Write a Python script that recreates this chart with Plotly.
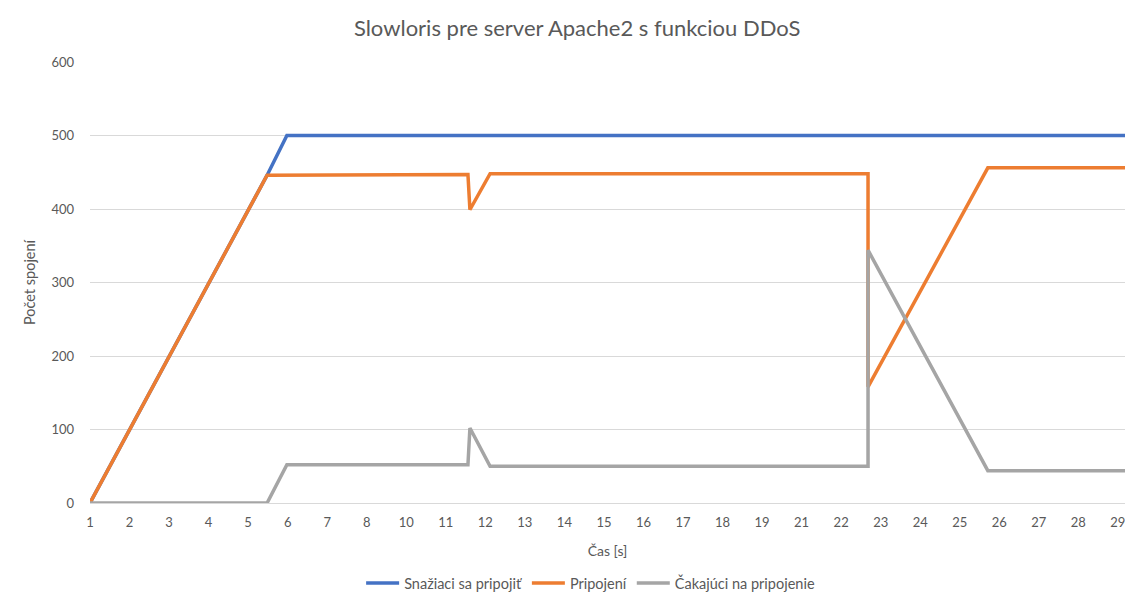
import plotly.graph_objects as go

# category labels shown on the time axis (Excel skipped 9 and 20)
tick_labels = [1, 2, 3, 4, 5, 6, 7, 8, 10, 11, 12, 13, 14, 15, 16, 17, 18, 19,
               21, 22, 23, 24, 25, 26, 27, 28, 29]
tick_pos = list(range(len(tick_labels)))

# x in category-slot units, y = number of connections
snaziaci_x = [0, 4.48, 4.98, 26.18]
snaziaci_y = [0, 446, 500, 500]

pripojeni_x = [0, 4.48, 9.56, 9.61, 10.12, 19.68, 19.68, 22.71, 26.18]
pripojeni_y = [0, 446, 447, 399, 448, 448, 158, 456, 456]

cakajuci_x = [0, 4.48, 4.98, 9.56, 9.61, 10.12, 19.68, 19.68, 22.71, 26.18]
cakajuci_y = [0, 0, 52, 52, 102, 50, 50, 344, 44, 44]

FONT = "Lato"
TEXT = "#595959"
GRID = "#d9d9d9"

fig = go.Figure()
fig.add_trace(go.Scatter(x=snaziaci_x, y=snaziaci_y, mode="lines",
                         name="Snažiaci sa pripojiť",
                         line=dict(color="#4472C4", width=3.5)))
fig.add_trace(go.Scatter(x=pripojeni_x, y=pripojeni_y, mode="lines",
                         name="Pripojení",
                         line=dict(color="#ED7D31", width=3.5)))
fig.add_trace(go.Scatter(x=cakajuci_x, y=cakajuci_y, mode="lines",
                         name="Čakajúci na pripojenie",
                         line=dict(color="#A5A5A5", width=3.5)))

fig.update_layout(
    width=1125,
    height=597,
    paper_bgcolor="white",
    plot_bgcolor="white",
    margin=dict(l=90, r=0, t=62, b=94, autoexpand=False),
    font=dict(family=FONT, size=12, color=TEXT),
    title=dict(text="Slowloris pre server Apache2 s funkciou DDoS",
               x=0.513, xref="container", xanchor="center",
               y=0.953, yref="container", yanchor="middle",
               font=dict(size=22, color=TEXT, family=FONT)),
    showlegend=True,
    legend=dict(orientation="h", x=0.525, xref="container", xanchor="center",
                y=0.0235, yref="container", yanchor="middle",
                font=dict(size=14.5, color=TEXT), itemwidth=33,
                traceorder="normal"),
    xaxis=dict(range=[0, 26.18], tickmode="array", tickvals=tick_pos,
               ticktext=[str(t) for t in tick_labels], showgrid=False,
               zeroline=False, showline=False, ticks="", automargin=False,
               ticklabelstandoff=10, ticklabeloverflow="allow",
               tickfont=dict(size=13, color=TEXT),
               title=dict(text="Čas [s]", font=dict(size=14, color=TEXT),
                          standoff=17)),
    yaxis=dict(range=[0, 600], dtick=100, showgrid=True, gridcolor=GRID,
               gridwidth=1, zeroline=True, zerolinecolor=GRID, zerolinewidth=1,
               showline=False, ticks="", ticklabelstandoff=15, automargin=False,
               tickfont=dict(size=13, color=TEXT),
               title=dict(text="Počet spojení", font=dict(size=14.5, color=TEXT),
                          standoff=12)),
)

# the page body has an 8px default margin; drop it so the figure fills the window
fig.write_html("out.html", config={"displayModeBar": False},
               post_script="document.body.style.margin='0';")
